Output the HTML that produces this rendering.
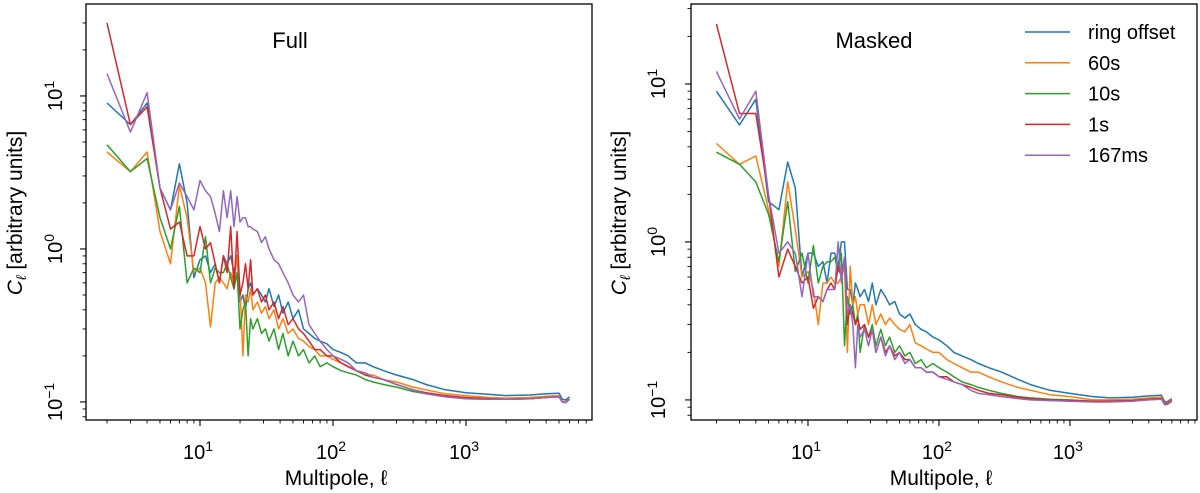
<!DOCTYPE html>
<html><head><meta charset="utf-8"><style>
html,body{margin:0;padding:0;background:#fff;}
svg{display:block;font-family:"Liberation Sans","DejaVu Sans",sans-serif;}
</style></head><body>
<svg id="chart" width="1200" height="493" viewBox="0 0 1200 493"></svg>
<script>
const ells = [2,3,4,5,6,7,8,9,10,11,12,13,14,15,16,17,18,19,20,21,22,23,24,25,27,29,31,33,36,39,42,46,50,55,60,66,73,80,90,100,115,130,150,175,200,240,300,400,500,700,1000,1500,2000,3000,4000,5000,5300,5600,6000];
const seriesNames = ["ring offset","60s","10s","1s","167ms"];
const seriesColors = ["#1f77b4","#ff7f0e","#2ca02c","#d62728","#9467bd"];
const fullBlue = [9,6.5,9,2.5,1.8,3.6,2,0.65,0.85,0.9,0.7,0.8,0.6,0.9,0.8,0.9,0.7,0.9,0.45,0.5,0.4,0.55,0.6,0.5,0.55,0.5,0.45,0.55,0.42,0.5,0.38,0.45,0.35,0.4,0.3,0.28,0.26,0.25,0.24,0.22,0.21,0.2,0.18,0.18,0.17,0.16,0.15,0.14,0.13,0.12,0.115,0.112,0.11,0.111,0.113,0.114,0.104,0.103,0.108];
const fullOrange = [4.3,3.2,4.3,1.3,0.8,2.6,1.6,0.7,0.75,0.6,0.31,0.6,0.65,0.6,0.55,0.7,0.6,0.9,0.55,0.2,0.5,0.45,0.55,0.4,0.45,0.38,0.42,0.35,0.4,0.3,0.35,0.28,0.3,0.26,0.25,0.23,0.22,0.2,0.2,0.19,0.18,0.17,0.16,0.15,0.15,0.14,0.135,0.125,0.12,0.113,0.11,0.107,0.106,0.107,0.109,0.11,0.1,0.1,0.105];
const fullGreen = [4.8,3.2,3.9,1.6,1.0,1.9,0.6,0.75,0.7,1.2,0.6,0.75,0.7,0.7,0.8,0.65,0.55,0.7,0.3,0.4,0.45,0.2,0.35,0.3,0.35,0.28,0.3,0.25,0.3,0.22,0.28,0.2,0.25,0.2,0.22,0.18,0.2,0.17,0.18,0.17,0.16,0.155,0.15,0.14,0.135,0.13,0.125,0.117,0.113,0.108,0.105,0.104,0.104,0.105,0.107,0.108,0.1,0.099,0.104];
const fullRed = [30,6.5,8.5,2.5,1.35,1.5,0.9,0.9,1.4,1.0,1.1,0.8,0.6,0.9,0.7,1.4,0.55,1.3,0.5,0.6,0.8,0.55,0.85,0.5,0.55,0.45,0.5,0.4,0.45,0.35,0.42,0.32,0.35,0.3,0.28,0.25,0.22,0.22,0.2,0.2,0.18,0.17,0.16,0.15,0.145,0.14,0.13,0.12,0.115,0.11,0.107,0.105,0.104,0.105,0.107,0.108,0.1,0.099,0.104];
const fullPurple = [14,5.8,10.5,2.5,1.8,2.7,2.2,1.8,2.8,2.4,2.2,1.7,1.3,2.4,1.6,2.4,1.4,2.2,1.5,1.6,1.6,1.4,1.4,1.35,1.3,1.1,1.2,1.0,0.85,0.8,0.7,0.6,0.5,0.45,0.5,0.32,0.28,0.25,0.22,0.2,0.19,0.18,0.16,0.155,0.145,0.14,0.13,0.12,0.113,0.108,0.105,0.104,0.104,0.105,0.107,0.108,0.1,0.099,0.104];
const maskBlue = [9,5.5,8,1.8,1.6,3.2,2.2,0.6,0.85,0.85,0.7,0.75,0.55,0.85,0.85,0.7,1.0,1.0,0.5,0.5,0.4,0.55,0.5,0.45,0.5,0.42,0.55,0.4,0.5,0.45,0.4,0.42,0.35,0.33,0.35,0.3,0.28,0.27,0.25,0.24,0.22,0.2,0.19,0.18,0.17,0.16,0.15,0.135,0.125,0.115,0.11,0.105,0.103,0.104,0.106,0.107,0.097,0.098,0.102];
const maskOrange = [4.2,3.1,3.5,1.6,0.7,2.4,1.2,0.6,0.65,0.5,0.3,0.55,0.55,0.6,0.55,0.55,0.6,0.7,0.2,0.7,0.4,0.45,0.35,0.4,0.4,0.3,0.4,0.3,0.35,0.3,0.33,0.3,0.28,0.27,0.3,0.23,0.22,0.21,0.2,0.2,0.18,0.17,0.16,0.15,0.15,0.14,0.13,0.12,0.115,0.108,0.105,0.1,0.1,0.101,0.103,0.104,0.095,0.096,0.1];
const maskGreen = [3.7,3.1,2.4,1.5,0.75,1.8,0.65,0.85,0.55,0.95,0.55,0.7,0.75,0.75,0.8,0.65,0.85,0.22,0.45,0.35,0.4,0.3,0.35,0.2,0.3,0.25,0.3,0.22,0.28,0.22,0.25,0.2,0.22,0.19,0.2,0.17,0.18,0.16,0.17,0.16,0.15,0.14,0.13,0.125,0.12,0.115,0.11,0.105,0.103,0.101,0.1,0.098,0.098,0.099,0.101,0.102,0.094,0.095,0.099];
const maskRed = [24,6.5,6.5,2,0.6,0.9,0.7,0.55,0.6,0.38,0.45,0.42,0.5,0.55,0.5,0.7,0.6,0.8,0.3,0.4,0.35,0.3,0.33,0.28,0.3,0.25,0.28,0.2,0.25,0.2,0.22,0.19,0.2,0.18,0.18,0.16,0.16,0.15,0.15,0.14,0.14,0.13,0.125,0.12,0.115,0.11,0.108,0.104,0.102,0.1,0.099,0.098,0.098,0.099,0.101,0.102,0.094,0.095,0.099];
const maskPurple = [12,6,9,2,0.85,1.0,0.85,0.45,0.85,0.45,0.45,0.42,0.5,0.5,0.5,1.0,0.55,0.8,0.35,0.4,0.3,0.16,0.3,0.25,0.28,0.22,0.28,0.2,0.25,0.19,0.22,0.18,0.2,0.17,0.18,0.16,0.16,0.15,0.15,0.14,0.135,0.13,0.125,0.115,0.11,0.108,0.105,0.102,0.1,0.099,0.098,0.097,0.097,0.098,0.1,0.101,0.093,0.094,0.098];
const xTickLabels = ["10","10","10"];
const xTickExps = [1,2,3];
const yTickExps = [-1,0,1];

const NS = "http://www.w3.org/2000/svg";
const svg = document.getElementById("chart");
function mk(tag, attrs, parent){const e=document.createElementNS(NS,tag);for(const k in attrs)e.setAttribute(k,attrs[k]);(parent||svg).appendChild(e);return e;}

const panels = [
 {name:"full", title:"Full", x0:86, x1:592, y0:4, y1:420, lx0:0.143, lx1:3.947, ly0:-1.118, ly1:1.601, titleX:290, tickLabX:55, yLabX:15,
  series:[fullBlue,fullOrange,fullGreen,fullRed,fullPurple], legend:false},
 {name:"masked", title:"Masked", x0:691, x1:1197, y0:4, y1:420, lx0:0.107, lx1:3.97, ly0:-1.127, ly1:1.506, titleX:874, tickLabX:658, yLabX:619,
  series:[maskBlue,maskOrange,maskGreen,maskRed,maskPurple], legend:true}
];

panels.forEach(p=>{
  const g = mk("g",{});
  
  
  const xs = v => p.x0 + (Math.log10(v)-p.lx0)/(p.lx1-p.lx0)*(p.x1-p.x0);
  const ys = v => p.y1 - (Math.log10(v)-p.ly0)/(p.ly1-p.ly0)*(p.y1-p.y0);
  const clip = mk("clipPath",{id:"clip-"+p.name},g);
  mk("rect",{x:p.x0,y:p.y0,width:p.x1-p.x0,height:p.y1-p.y0},clip);
  const sg = mk("g",{"clip-path":"url(#clip-"+p.name+")"},g);
  p.series.forEach((arr,i)=>{
    const d = arr.map((v,j)=>(j?"L":"M")+xs(ells[j]).toFixed(1)+","+ys(v).toFixed(1)).join("");
    const path = mk("path",{d:d,fill:"none",stroke:seriesColors[i],"stroke-width":1.5,"stroke-linejoin":"round"},sg);
    
    
  });
  const frame = mk("rect",{x:p.x0,y:p.y0,width:p.x1-p.x0,height:p.y1-p.y0,fill:"none",stroke:"#000","stroke-width":1.3},g);
  
  
  for(let e=0;e<=4;e++){for(let m=1;m<10;m++){const v=m*Math.pow(10,e);const lv=Math.log10(v);if(lv<p.lx0||lv>p.lx1)continue;const x=xs(v);const len=m===1?6:3.5;
    mk("line",{x1:x,x2:x,y1:p.y1,y2:p.y1+len,stroke:"#000","stroke-width":m===1?1.1:0.9},g);}}
  xTickExps.forEach((e,i)=>{const x=xs(Math.pow(10,e));
    const t=mk("text",{x:x-2,y:459,"text-anchor":"middle","font-size":20},g);
    
    
    t.textContent=xTickLabels[i];
    const s=mk("tspan",{dy:-8,"font-size":14},t);s.textContent=String(e);});
  for(let e=-2;e<=1;e++){for(let m=1;m<10;m++){const v=m*Math.pow(10,e);const lv=Math.log10(v);if(lv<p.ly0||lv>p.ly1)continue;const y=ys(v);const len=m===1?6:3.5;
    mk("line",{x1:p.x0-len,x2:p.x0,y1:y,y2:y,stroke:"#000","stroke-width":m===1?1.1:0.9},g);}}
  yTickExps.forEach(e=>{const y=ys(Math.pow(10,e));
    const t=mk("text",{x:0,y:0,"text-anchor":"middle","font-size":20,transform:"translate("+(p.tickLabX+7)+","+y+") rotate(-90)"},g);
    
    
    t.textContent="10";
    const s=mk("tspan",{dy:-8,"font-size":14},t);s.textContent=e<0?"\u2212"+(-e):String(e);});
  const xl=mk("text",{x:(p.x0+p.x1)/2-3,y:485,"text-anchor":"middle","font-size":21},g);
  
  
  xl.textContent="Multipole, \u2113";
  const yl=mk("text",{x:0,y:0,"text-anchor":"middle","font-size":21,transform:"translate("+(p.yLabX+7)+",213) rotate(-90)"},g);
  
  
  const c=mk("tspan",{"font-style":"italic"},yl);c.textContent="C";
  const sub=mk("tspan",{"font-size":14,dy:4,"font-style":"italic"},yl);sub.textContent="\u2113";
  const rest=mk("tspan",{dy:-4},yl);rest.textContent=" [arbitrary units]";
  const tt=mk("text",{x:p.titleX,y:48,"text-anchor":"middle","font-size":22},g);
  
  
  tt.textContent=p.title;
  if(p.legend){
    const lg=mk("g",{},g);
    
    
    seriesNames.forEach((n,i)=>{const y=32+i*30.8;
      const ln=mk("line",{x1:1025,x2:1070,y1:y,y2:y,stroke:seriesColors[i],"stroke-width":1.5},lg);
      
      
      const tx=mk("text",{x:1088,y:y+7,"font-size":20},lg);
      
      
      tx.textContent=n;});
  }
});
</script>
</body></html>
